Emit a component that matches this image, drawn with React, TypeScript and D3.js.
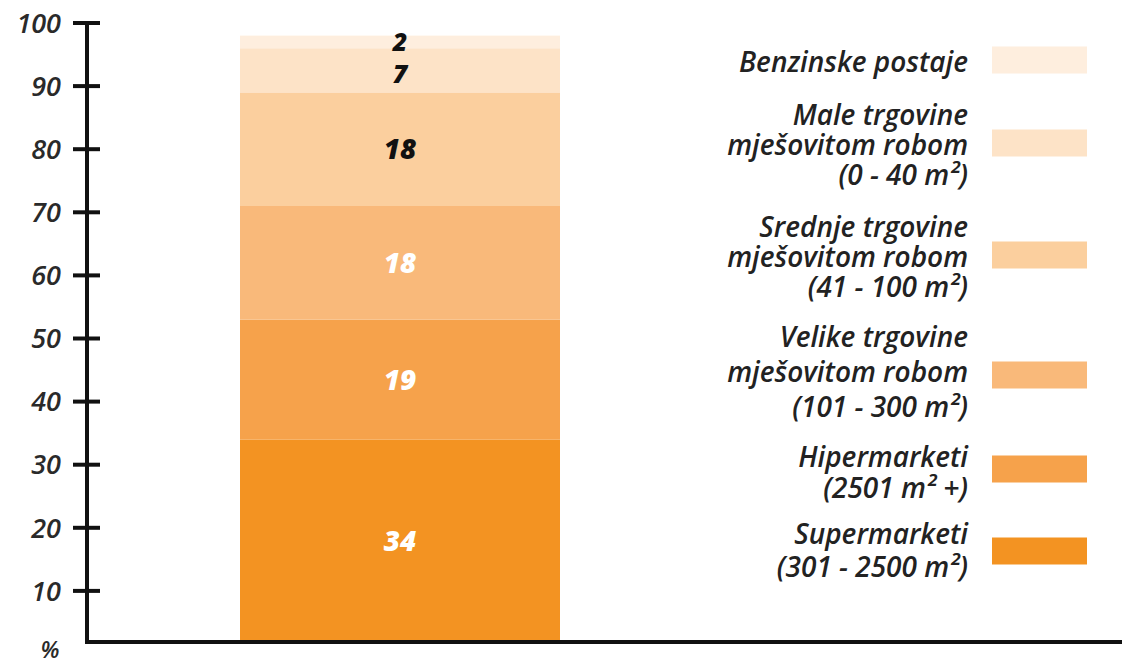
import React from "react";
import * as d3 from "d3";

// ---- data ----
const categories = [
  "Supermarketi",
  "Hipermarketi",
  "Velike trgovine",
  "Srednje trgovine",
  "Male trgovine",
  "Benzinske postaje",
];
const values = [34, 19, 18, 18, 7, 2];
const colors = ["#F39322", "#F6A24B", "#F9B97A", "#FBCF9E", "#FDE3C7", "#FEEEDE"];
const labelColors = ["#ffffff", "#ffffff", "#ffffff", "#111111", "#111111", "#111111"];
const legendLines = [
  ["Supermarketi", "(301 - 2500 m²)"],
  ["Hipermarketi", "(2501 m² +)"],
  ["Velike trgovine", "mješovitom robom", "(101 - 300 m²)"],
  ["Srednje trgovine", "mješovitom robom", "(41 - 100 m²)"],
  ["Male trgovine", "mješovitom robom", "(0 - 40 m²)"],
  ["Benzinske postaje"],
];
const yTicks = [10, 20, 30, 40, 50, 60, 70, 80, 90, 100];
const unitLabel = "%";

// ---- layout ----
const W = 1122;
const H = 664;
const axisX = 87;
const baseY = 642;
const barX0 = 240;
const barX1 = 560;
// legend: first text baseline, line gap and swatch centre per entry (same order as categories)
const legendTextY = [544, 467, 347, 237, 125, 72];
const legendGap = [33, 31, 35, 30, 30, 30];
const legendSwatchY = [551, 469, 375, 255, 143, 60];
const legendTextRight = 968;
const swatchX = 992;
const swatchW = 95;
const swatchH = 27;

const FONT = "'Open Sans', 'Noto Sans', sans-serif";

export default function App() {
  const y = d3.scaleLinear().domain([0, 100]).range([654, 23]);

  const row: Record<string, number> = {};
  categories.forEach((c, i) => (row[c] = values[i]));
  const series = d3.stack<Record<string, number>>().keys(categories)([row]);

  return (
    <svg
      width={W}
      height={H}
      style={{ position: "absolute", left: 0, top: 0, background: "#ffffff" }}
      fontFamily={FONT}
    >
      {/* bar segments */}
      {series.map((s, i) => {
        const d = s[0];
        const yTop = y(d[1]);
        const yBot = Math.min(y(d[0]), baseY);
        const small = values[i] < 10;
        return (
          <g key={categories[i]}>
            <rect x={barX0} y={yTop} width={barX1 - barX0} height={yBot - yTop} fill={colors[i]} />
            <text
              x={(barX0 + barX1) / 2}
              y={(yTop + yBot) / 2 + (small ? (i === 4 ? 4 : 0) : 0)}
              dy="0.36em"
              textAnchor="middle"
              fontSize={small ? 25 : 28}
              fontWeight={800}
              fontStyle="italic"
              fill={labelColors[i]}
            >
              {values[i]}
            </text>
          </g>
        );
      })}

      {/* y axis */}
      <line x1={axisX} x2={axisX} y1={y(100) - 2} y2={baseY + 2} stroke="#111" strokeWidth={4} />
      {yTicks.map((t) => (
        <g key={t}>
          <line x1={73} x2={100} y1={y(t)} y2={y(t)} stroke="#111" strokeWidth={4} />
          <text
            x={61}
            y={y(t)}
            dy="0.36em"
            textAnchor="end"
            fontSize={27}
            fontStyle="italic"
            fontWeight={600}
            fill="#2a2a2a"
          >
            {t}
          </text>
        </g>
      ))}
      <text x={50} y={658} textAnchor="middle" fontSize={23} fontStyle="italic" fontWeight={600} fill="#2a2a2a">
        {unitLabel}
      </text>

      {/* x axis */}
      <line x1={axisX - 2} x2={W} y1={baseY} y2={baseY} stroke="#111" strokeWidth={4} />

      {/* legend */}
      {categories.map((c, i) => (
        <g key={"lg" + c}>
          {legendLines[i].map((ln, j) => (
            <text
              key={j}
              x={legendTextRight}
              y={legendTextY[i] + j * legendGap[i]}
              textAnchor="end"
              fontSize={28}
              fontStyle="italic"
              fontWeight={600}
              fill="#222"
            >
              {ln}
            </text>
          ))}
          <rect
            x={swatchX}
            y={legendSwatchY[i] - swatchH / 2}
            width={swatchW}
            height={swatchH}
            fill={colors[i]}
          />
        </g>
      ))}
    </svg>
  );
}
